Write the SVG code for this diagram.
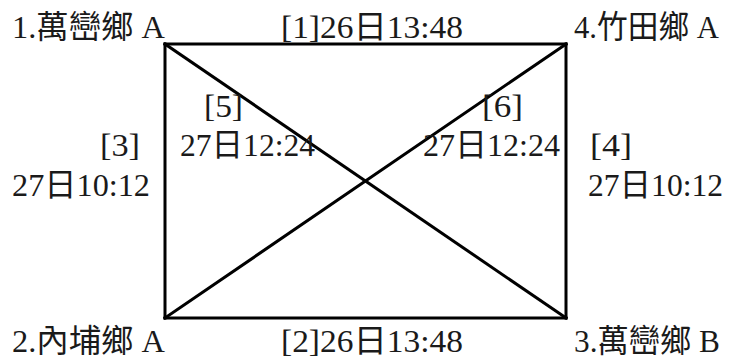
<svg xmlns="http://www.w3.org/2000/svg" width="732" height="361" viewBox="0 0 732 361">
<style>
text{font-family:"Liberation Serif","Noto Sans CJK TC",serif;font-size:32px;fill:#1a1a1a;}
.e{stroke:#000;stroke-width:3;stroke-linecap:square;fill:none;}
</style>
<rect width="732" height="361" fill="#fff"/>
<g id="connectors">
<line class="e" x1="165" y1="44" x2="566" y2="44"/>
<line class="e" x1="165" y1="318" x2="566" y2="318"/>
<line class="e" x1="165" y1="44" x2="165" y2="318"/>
<line class="e" x1="566" y1="44" x2="566" y2="318"/>
<line class="e" x1="165" y1="44" x2="566" y2="318"/>
<line class="e" x1="165" y1="318" x2="566" y2="44"/>
<text x="281" y="38" textLength="182" lengthAdjust="spacingAndGlyphs">[1]26日13:48</text>
<text x="281" y="352" textLength="182" lengthAdjust="spacingAndGlyphs">[2]26日13:48</text>
<text x="100" y="156" textLength="40" lengthAdjust="spacingAndGlyphs">[3]</text>
<text x="12" y="196" textLength="138" lengthAdjust="spacingAndGlyphs">27日10:12</text>
<text x="590" y="156" textLength="42" lengthAdjust="spacingAndGlyphs">[4]</text>
<text x="588" y="196" textLength="135" lengthAdjust="spacingAndGlyphs">27日10:12</text>
<text x="204" y="117" textLength="39" lengthAdjust="spacingAndGlyphs">[5]</text>
<text x="180" y="156" textLength="135" lengthAdjust="spacingAndGlyphs">27日12:24</text>
<text x="482" y="117" textLength="41" lengthAdjust="spacingAndGlyphs">[6]</text>
<text x="423" y="156" textLength="137" lengthAdjust="spacingAndGlyphs">27日12:24</text>
</g>
<g id="node1"><text x="12" y="38" textLength="153" lengthAdjust="spacingAndGlyphs">1.萬巒鄉 A</text></g>
<g id="node2"><text x="12" y="352" textLength="153" lengthAdjust="spacingAndGlyphs">2.內埔鄉 A</text></g>
<g id="node3"><text x="574" y="352" textLength="146" lengthAdjust="spacingAndGlyphs">3.萬巒鄉 B</text></g>
<g id="node4"><text x="574" y="38" textLength="145" lengthAdjust="spacingAndGlyphs">4.竹田鄉 A</text></g>
</svg>
